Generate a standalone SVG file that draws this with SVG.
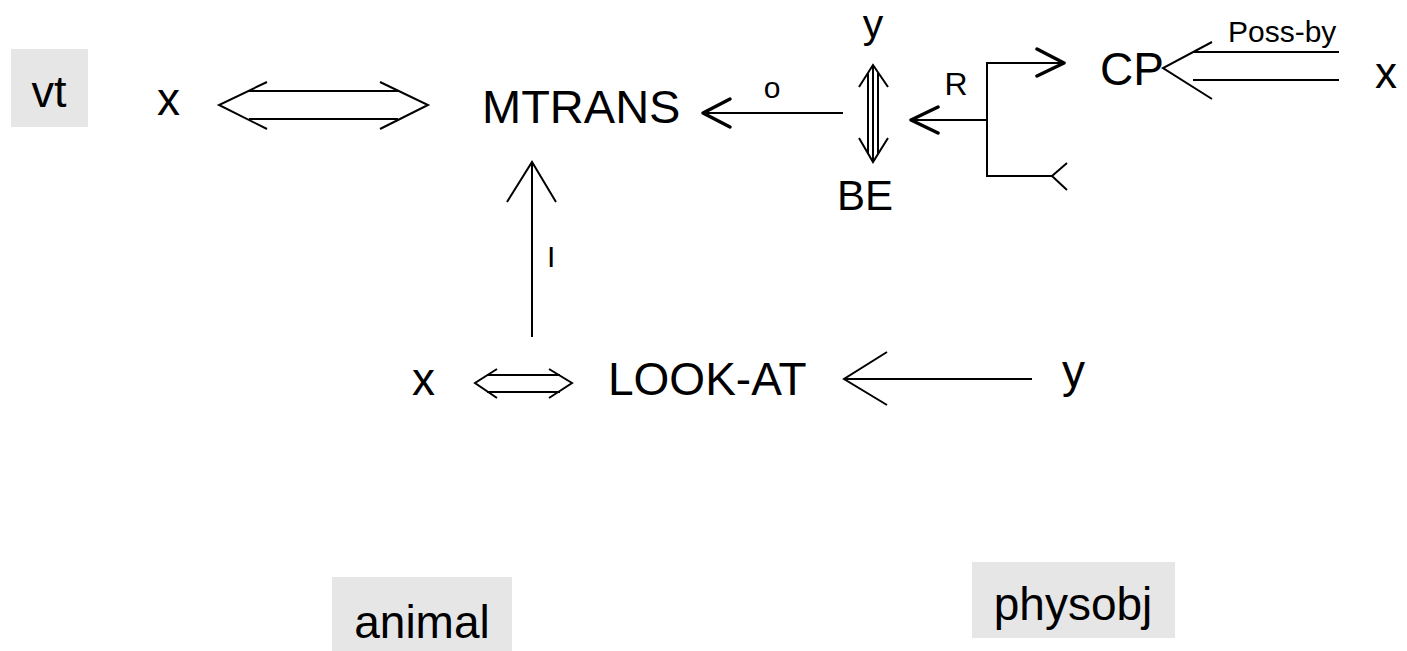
<svg xmlns="http://www.w3.org/2000/svg" width="1407" height="651" viewBox="0 0 1407 651">
<style>
text{font-family:"Liberation Sans",Arial,sans-serif;fill:#000}
.box{fill:#e6e6e6}
.ln{stroke:#000;stroke-width:2;fill:none}
.hd{stroke:#000;stroke-width:3.5;fill:none;stroke-linecap:round;stroke-linejoin:round}
</style>
<rect width="1407" height="651" fill="#fff"/>
<g id="vt"><rect class="box" x="11" y="49" width="77" height="78"/><text x="49" y="107" text-anchor="middle" font-size="45">vt</text></g>
<g id="x1"><text x="157" y="115" font-size="46">x</text></g>
<g id="mtrans"><text x="482" y="123" font-size="47">MTRANS</text></g>
<g id="y1"><text x="873" y="38" text-anchor="middle" font-size="41">y</text></g>
<g id="be"><text x="865" y="210" text-anchor="middle" font-size="42">BE</text></g>
<g id="cp"><text x="1100" y="85" font-size="46">CP</text></g>
<g id="x2"><text x="1375" y="88" font-size="44">x</text></g>
<g id="x3"><text x="412" y="395" font-size="46">x</text></g>
<g id="lookat"><text x="608" y="395" font-size="46">LOOK-AT</text></g>
<g id="y2"><text x="1062" y="387" font-size="46">y</text></g>
<g id="animal"><rect class="box" x="332" y="577" width="180" height="74"/><text x="422" y="638" text-anchor="middle" font-size="46">animal</text></g>
<g id="physobj"><rect class="box" x="972" y="562" width="203" height="76"/><text x="1073" y="620" text-anchor="middle" font-size="46">physobj</text></g>
<g id="connectors">
<path class="ln" d="M267 82L219 105L267 129M380 82L428 105L380 129M249 91H398M249 119H398"/>
<path class="ln" d="M843 113H704"/>
<path class="hd" d="M730 99L703 113L730 127"/>
<text x="772" y="98" text-anchor="middle" font-size="30">o</text>
<path class="ln" d="M859 87L873 65L888 87M859 138L873 162L888 138M868 73V154M873 66V161M878 73V154"/>
<path class="ln" d="M987 120H912M987 62V177M986 63H1063M986 176H1052L1067 163M1052 176L1067 190"/>
<path class="hd" d="M938 107L911 120L938 133M1037 49L1064 63L1037 76"/>
<text x="956" y="95" text-anchor="middle" font-size="32">R</text>
<path class="ln" d="M1212 42L1163 68L1212 99M1193 52H1339M1193 80H1339"/>
<text x="1228" y="42" font-size="30">Poss-by</text>
<path class="ln" d="M532 337V162M507 202L532 162L556 202"/>
<text x="547" y="267" font-size="30">I</text>
<path class="ln" d="M497 369L475 383L497 398M549 369L572 383L549 398M487 375H560M487 392H560"/>
<path class="ln" d="M887 352L844 379L887 405M845 379H1032"/>
</g>
</svg>
